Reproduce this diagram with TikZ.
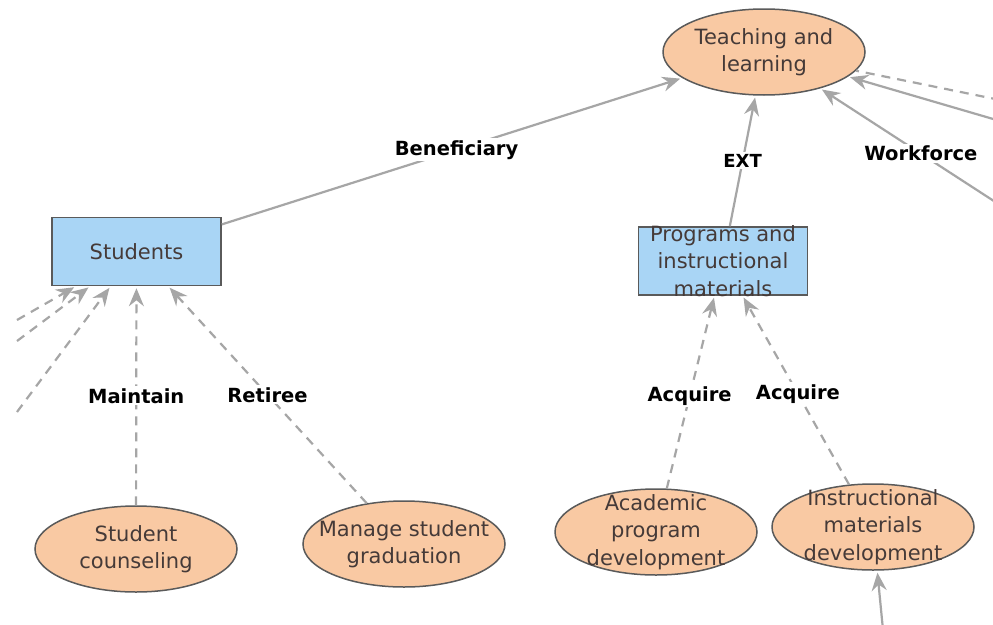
\documentclass[tikz,border=0pt]{standalone}
\usepackage{fontspec}
\setmainfont{DejaVu Sans}
\usetikzlibrary{arrows.meta,shapes.geometric}
\definecolor{peach}{HTML}{F9C9A3}
\definecolor{skyb}{HTML}{A9D5F5}
\definecolor{edgec}{HTML}{5A5A5A}
\definecolor{conn}{HTML}{A6A6A6}
\definecolor{txtc}{HTML}{453A38}
\tikzset{
  usecase/.style={ellipse,draw=edgec,line width=1.5pt,fill=peach,minimum width=202pt,minimum height=86pt,inner sep=0pt},
  entity/.style={rectangle,draw=edgec,line width=1.5pt,fill=skyb,minimum width=169pt,minimum height=68pt,inner sep=0pt},
  txt/.style={text=txtc,font=\fontsize{21}{27.5}\selectfont,align=center,inner sep=0pt},
  lbl/.style={font=\fontsize{19.5}{22}\selectfont\bfseries,text=black,fill=white,inner sep=2pt},
  tip/.style={-{Stealth[length=18pt,width=15pt,inset=6pt]}},
  solidarrow/.style={draw=conn,line width=2.2pt,tip,shorten >=2pt},
  dasharrow/.style={draw=conn,line width=2.2pt,dash pattern=on 9pt off 7pt,tip,shorten >=2pt},
  dashline/.style={draw=conn,line width=2.2pt,dash pattern=on 9pt off 7pt}
}
\begin{document}
\begin{tikzpicture}[x=1pt,y=-1pt]
\useasboundingbox[fill=white] (0,0) rectangle (993,624);
% nodes
\node[usecase,label={[txt]center:{Teaching and\\learning}}] (teach) at (764,52) {};
\node[entity,label={[txt]center:{Students}}] (stu) at (136.5,251.5) {};
\node[entity,label={[txt]center:{Programs and\\instructional\\materials}}] (prog) at (723,261) {};
\node[usecase,label={[txt]center:{Student\\counseling}}] (couns) at (136,549) {};
\node[usecase,label={[txt]center:{Manage student\\graduation}}] (grad) at (404,544) {};
\node[usecase,label={[txt]center:{Academic\\program\\development}}] (acad) at (656,532) {};
\node[usecase,label={[txt]center:{Instructional\\materials\\development}}] (instr) at (873,527) {};
% free ends
\coordinate (r1) at (1000,100);
\coordinate (r2) at (1000,121);
\coordinate (r3) at (1000,205);
\coordinate (l1) at (17,320);
\coordinate (l2) at (17,341);
\coordinate (l3) at (17,412);
\coordinate (b1) at (883,630);
% connectors
\draw[solidarrow] (stu) -- node[lbl,pos=0.51] {Beneficiary} (teach);
\draw[solidarrow] (prog) -- node[lbl,pos=0.5,font=\fontsize{18}{20}\selectfont\bfseries] {EXT} (teach);
\draw[solidarrow] (r3) -- node[lbl,pos=0.44] {Workforce} (teach);
\draw[solidarrow] (r2) -- (teach);
\draw[dashline] (r1) -- (teach);
\draw[dasharrow] (couns) -- node[lbl,pos=0.5] {Maintain} (stu);
\draw[dasharrow] (grad) -- node[lbl,pos=0.5] {Retiree} (stu);
\draw[dasharrow] (l1) -- (stu);
\draw[dasharrow] (l2) -- (stu);
\draw[dasharrow] (l3) -- (stu);
\draw[dasharrow] (acad) -- node[lbl,pos=0.48] {Acquire} (prog);
\draw[dasharrow] (instr) -- node[lbl,pos=0.48] {Acquire} (prog);
\draw[solidarrow] (b1) -- (instr);
\end{tikzpicture}
\end{document}
